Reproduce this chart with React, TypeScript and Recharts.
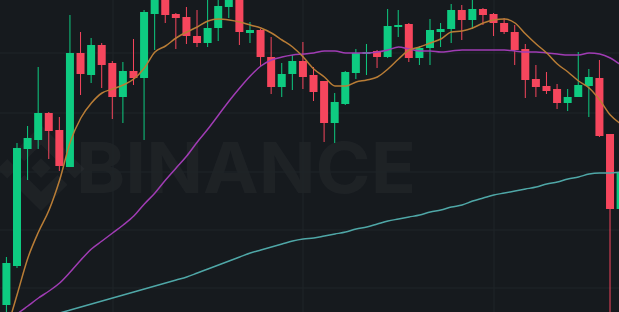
import React from 'react';
import { ComposedChart, Bar, Line, XAxis, YAxis, CartesianGrid } from 'recharts';

// candle values (arbitrary price units)
const OPEN = [7, 46, 163, 172, 199, 182, 145, 259, 237, 267, 249, 215, 241, 234, 298, 314, 298, 295, 276, 269, 284, 305, 315, 279, 282, 255, 225, 238, 251, 237, 231, 189, 208, 239, 258, 261, 255, 285, 288, 254, 264, 280, 283, 302, 292, 303, 298, 289, 280, 263, 233, 226, 223, 209, 215, 226, 234, 178, 103];
const HIGH = [55, 169, 186, 245, 200, 195, 297, 280, 274, 269, 251, 250, 273, 302, 320, 318, 299, 305, 302, 315, 314, 317, 318, 290, 283, 275, 249, 257, 270, 245, 231, 219, 241, 263, 268, 262, 303, 302, 289, 266, 293, 289, 308, 307, 314, 304, 299, 294, 287, 268, 247, 240, 228, 223, 260, 243, 252, 178, 142];
const LOW = [-6, 44, 132, 163, 153, 141, 145, 217, 229, 224, 193, 189, 227, 172, 262, 289, 263, 268, 265, 265, 271, 294, 267, 269, 245, 218, 215, 222, 223, 211, 170, 169, 207, 233, 237, 244, 254, 275, 250, 247, 247, 265, 269, 272, 283, 287, 276, 278, 247, 214, 215, 218, 203, 201, 215, 195, 175, -28, 102];
const CLOSE = [49, 164, 174, 199, 181, 146, 259, 238, 267, 247, 215, 241, 234, 300, 315, 297, 294, 276, 269, 284, 306, 313, 280, 282, 255, 225, 238, 251, 235, 220, 189, 210, 240, 259, 260, 255, 286, 287, 254, 264, 282, 283, 302, 292, 303, 297, 289, 280, 262, 232, 225, 221, 209, 215, 227, 235, 176, 103, 140];

// moving averages as drawn on the chart
const MA7 = [-18, 18, 54, 80, 102, 132, 170, 194, 209, 219, 223, 227, 233, 244, 260, 266, 274, 280, 285, 291, 293, 292, 290, 287, 284, 279, 272, 265, 255, 243, 235, 226, 226, 230, 232, 235, 243, 253, 262, 265, 269, 273, 280, 281, 284, 289, 292, 293, 289, 278, 268, 259, 248, 240, 231, 224, 212, 197, 188];
const MA25 = [-13, -2, 6, 14, 21, 29, 40, 52, 63, 71, 79, 87, 96, 108, 119, 132, 144, 156, 170, 183, 197, 211, 224, 236, 246, 252, 255, 257, 258, 259, 261, 261, 259, 259, 259, 260, 262, 265, 263, 261, 261, 260, 261, 262, 262, 262, 262, 262, 261, 260, 260, 259, 258, 257, 257, 259, 258, 254, 247];
const MA99 = [-18, -15, -12, -8, -5, -1, 2, 5, 8, 11, 14, 17, 20, 23, 26, 29, 32, 35, 39, 43, 47, 51, 55, 59, 62, 65, 68, 71, 73, 74, 76, 78, 80, 83, 85, 88, 91, 93, 95, 97, 100, 102, 105, 107, 111, 114, 117, 119, 121, 123, 125, 128, 130, 133, 135, 138, 139, 139, 140];

const UP = '#0ecb81';
const DOWN = '#f6465d';
const BG = '#161a1e';

const data = OPEN.map((open, i) => ({
  idx: i,
  open,
  high: HIGH[i],
  low: LOW[i],
  close: CLOSE[i],
  range: [LOW[i], HIGH[i]],
  ma7: MA7[i],
  ma25: MA25[i],
  ma99: MA99[i],
}));

const Candle = (props: any) => {
  const { x, y, width, height, payload } = props;
  if (x == null || y == null) return null;
  const { open, close, high, low } = payload;
  const color = close >= open ? UP : DOWN;
  const top = Math.min(y, y + height);
  const h = Math.abs(height);
  const k = h / (high - low || 1);
  const bodyTop = top + (high - Math.max(open, close)) * k;
  const bodyH = Math.max(1, Math.abs(open - close) * k);
  const cx = x + width / 2;
  return (
    <g>
      <line x1={cx} x2={cx} y1={top} y2={top + h} stroke={color} strokeWidth={1} />
      <rect x={x} y={bodyTop} width={width} height={bodyH} fill={color} />
    </g>
  );
};

const Watermark = () => (
  <svg width={619} height={312} style={{ position: 'absolute', left: 0, top: 0 }}>
    <g fill="rgba(255,255,255,0.035)" transform="translate(-2,125) scale(0.68)">
      <path d="M38.73,53.2,63.3,28.63,87.88,53.21l14.3-14.29L63.3,0,24.43,38.88Z" />
      <rect x="3.54" y="54.19" width="20.21" height="20.21" transform="rotate(-45 13.6 64.3)" />
      <path d="M38.73,73.41,63.3,98l24.58-24.58,14.3,14.29L63.3,126.61,24.43,87.74Z" />
      <rect x="102.86" y="54.2" width="20.21" height="20.21" transform="rotate(-45 112.97 64.3)" />
      <path d="M77.83,63.3,63.3,48.78,48.78,63.3,63.3,77.83Z" />
    </g>
    <text
      x={76}
      y={193}
      fontSize={70}
      fontWeight={700}
      fontFamily="Inter, 'Open Sans', sans-serif"
      fill="rgba(255,255,255,0.035)"
      textLength={340}
      lengthAdjust="spacingAndGlyphs"
    >
      BINANCE
    </text>
  </svg>
);

export default function App() {
  return (
    <div style={{ position: 'fixed', left: 0, top: 0, width: 619, height: 312, background: BG, overflow: 'hidden' }}>
      <Watermark />
      <div style={{ position: 'absolute', left: 0, top: 0 }}>
        <ComposedChart width={619} height={312} data={data} margin={{ top: 0, right: 0, bottom: 0, left: 0 }}>
          <CartesianGrid
            stroke="#1f2429"
            horizontalPoints={[53, 113, 172, 230, 288]}
            verticalPoints={[113, 303, 494]}
          />
          <XAxis dataKey="idx" type="number" domain={[-0.633, 57.82]} allowDataOverflow hide />
          <YAxis type="number" domain={[0, 312]} allowDataOverflow hide />
          <Line dataKey="ma99" type="monotone" stroke="#4fa7a7" strokeWidth={1.5} dot={false} isAnimationActive={false} />
          <Line dataKey="ma25" type="monotone" stroke="#a03cb4" strokeWidth={1.5} dot={false} isAnimationActive={false} />
          <Line dataKey="ma7" type="monotone" stroke="#b97d36" strokeWidth={1.5} dot={false} isAnimationActive={false} />
          <Bar dataKey="range" barSize={8} shape={<Candle />} isAnimationActive={false} />
        </ComposedChart>
      </div>
    </div>
  );
}
